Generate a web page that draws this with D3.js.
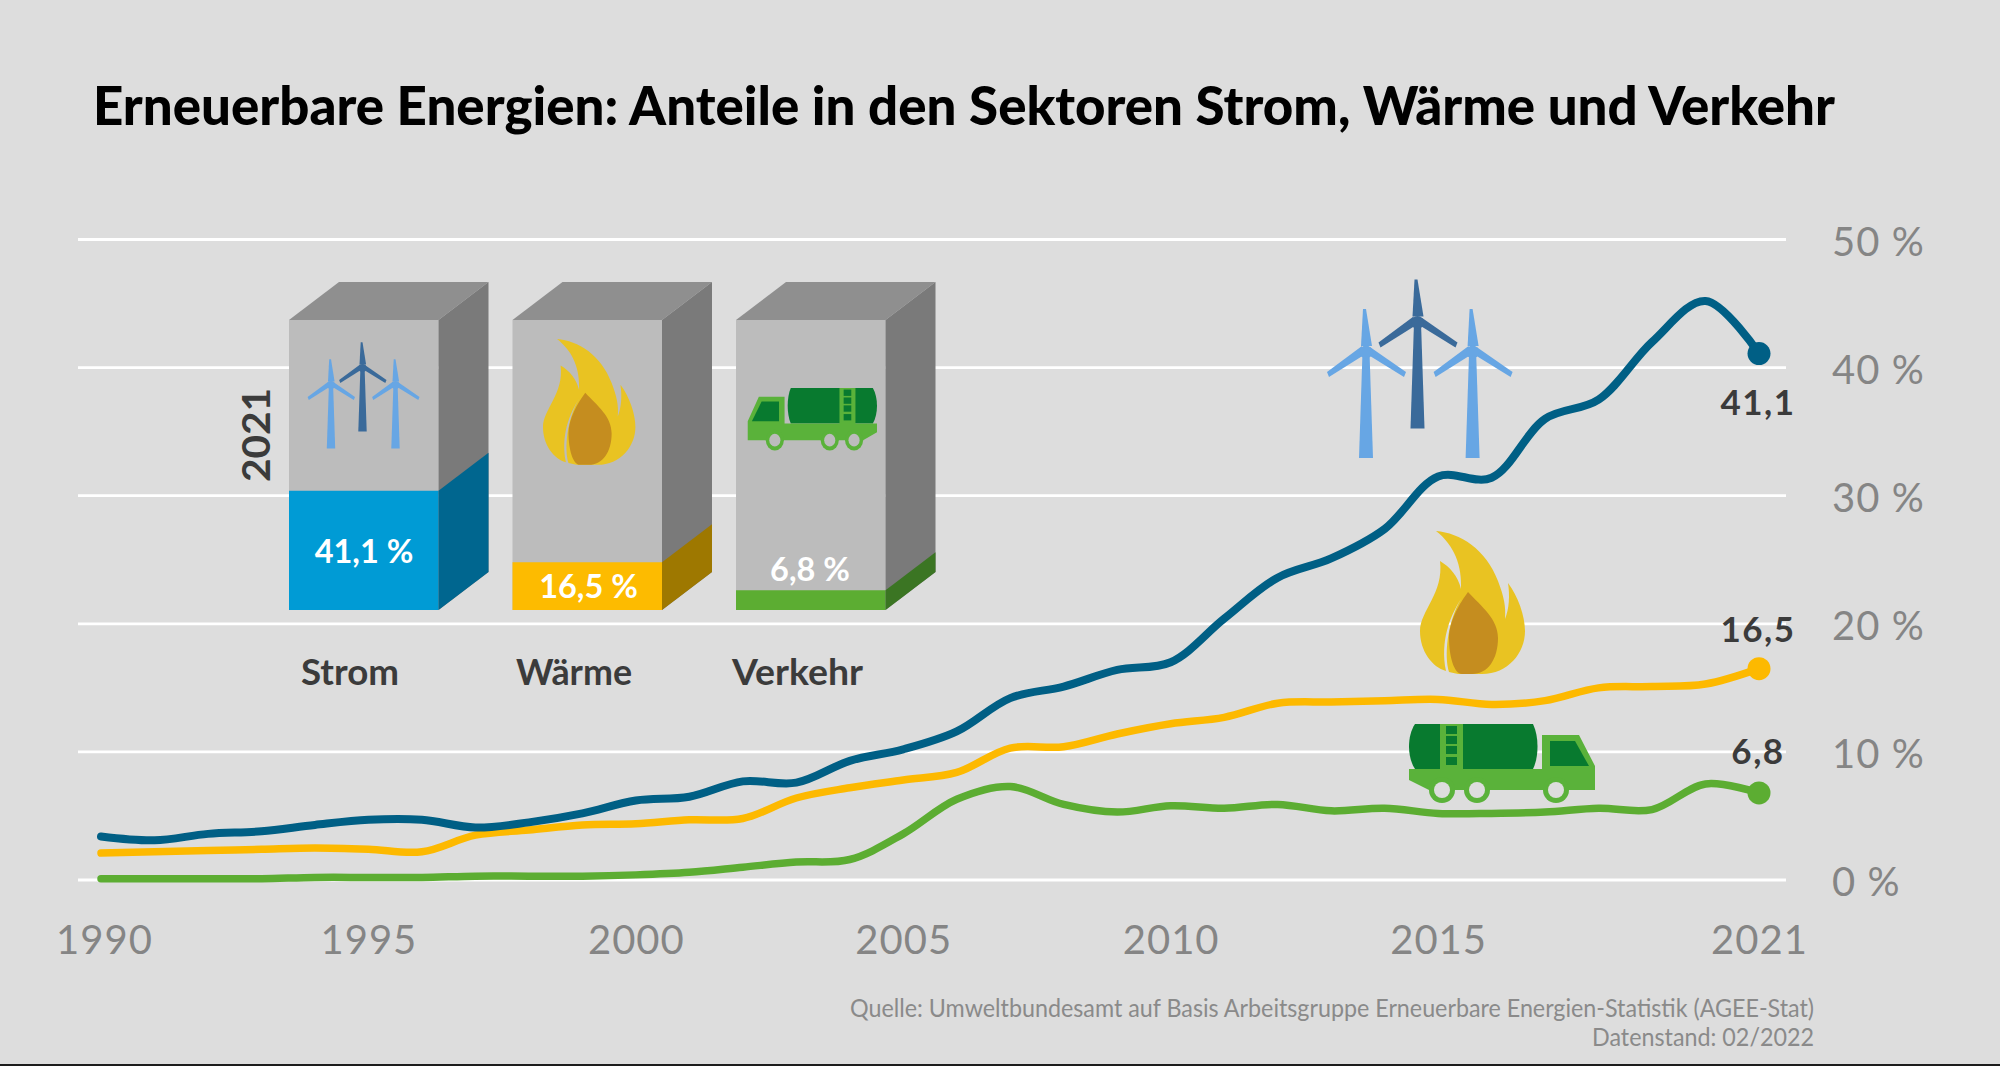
<!DOCTYPE html>
<html lang="de">
<head>
<meta charset="utf-8">
<script src="https://cdn.jsdelivr.net/npm/d3@7/dist/d3.min.js"></script>
<style>
html,body{margin:0;padding:0;background:#dddddd;overflow:hidden}
svg{display:block}
text{font-family:Lato,"Noto Sans",sans-serif}
</style>
</head>
<body>
<svg id="c" width="2000" height="1066"></svg>
<script>
const titleText = "Erneuerbare Energien: Anteile in den Sektoren Strom, Wärme und Verkehr";
const sourceLines = ["Quelle: Umweltbundesamt auf Basis Arbeitsgruppe Erneuerbare Energien-Statistik (AGEE-Stat)", "Datenstand: 02/2022"];
const years = d3.range(1990, 2022);
const strom = [3.4,3.1,3.6,3.8,4.3,4.7,4.7,4.1,4.5,5.2,6.2,6.5,7.7,7.6,9.3,10.2,11.6,14.2,15.1,16.4,17.0,20.4,23.6,25.1,27.4,31.5,31.4,36.0,37.5,42.0,45.2,41.1];
const waerme = [2.1,2.2,2.3,2.4,2.5,2.4,2.2,3.5,3.9,4.3,4.4,4.7,4.8,6.4,7.2,7.8,8.4,10.3,10.4,11.4,12.2,12.7,13.8,13.9,14.0,14.1,13.7,14.0,15.0,15.1,15.3,16.5];
const verkehr = [0.1,0.1,0.1,0.1,0.2,0.2,0.2,0.3,0.3,0.3,0.4,0.6,1.0,1.4,1.6,3.6,6.3,7.3,5.9,5.3,5.8,5.6,5.9,5.4,5.6,5.2,5.2,5.3,5.6,5.5,7.5,6.8];
const yTicks = [0,10,20,30,40,50];
const xTicks = [1990,1995,2000,2005,2010,2015,2021];
const barCats = ["Strom","Wärme","Verkehr"];
const barVals = [41.1,16.5,6.8];
const barLabels = ["41,1 %","16,5 %","6,8 %"];
const endLabels = ["41,1","16,5","6,8"];
const blockYear = "2021";

const svg = d3.select("#c");
const GREY="#858585", DARK="#3b3b3b";
const x = d3.scaleLinear().domain([1990,2021]).range([101,1759]);
const y = d3.scaleLinear().domain([0,50]).range([880,239.5]);

// rule at the foot
svg.append("rect").attr("x",0).attr("y",1064).attr("width",2000).attr("height",2).attr("fill","#1c1c1c");

// title
svg.append("text").attr("x",93).attr("y",125).text(titleText)
  .attr("font-size",53).attr("font-weight",900).attr("fill","#000")
  .attr("textLength",1742).attr("lengthAdjust","spacingAndGlyphs");

// grid
svg.append("g").selectAll("line").data(yTicks).join("line")
  .attr("x1",78).attr("x2",1786).attr("y1",d=>y(d)).attr("y2",d=>y(d))
  .attr("stroke","#fff").attr("stroke-width",2.8);

// axes
const yAxis = d3.axisRight(y).tickValues(yTicks).tickSize(0).tickPadding(0).tickFormat(d=>d+" %");
const gy = svg.append("g").attr("transform","translate(1832,3)").call(yAxis);
const xAxis = d3.axisBottom(x).tickValues(xTicks).tickSize(0).tickPadding(0).tickFormat(d3.format("d"));
const gx = svg.append("g").attr("transform","translate(0,926)").call(xAxis);
[gy,gx].forEach(g=>{
  g.select(".domain").remove();
  g.selectAll("text").attr("font-size",40).attr("fill",GREY).attr("font-family","Lato,sans-serif").attr("font-weight",400).attr("letter-spacing",1);
});
gx.selectAll("text").attr("dy","0.71em").filter(d=>d===1990).attr("dx",3);

// series
const line = d3.line().x((d,i)=>x(years[i])).y(d=>y(d)).curve(d3.curveCatmullRom.alpha(0.5));
const series = [
  {v:verkehr,c:"#5cad32",lab:endLabels[2],ly:764,w:7.5},
  {v:waerme,c:"#fdb900",lab:endLabels[1],ly:642,w:7.5},
  {v:strom,c:"#005f85",lab:endLabels[0],ly:415,w:8}
];
const sg = svg.append("g");
sg.selectAll("path").data(series).join("path")
  .attr("d",d=>line(d.v)).attr("fill","none").attr("stroke",d=>d.c)
  .attr("stroke-width",d=>d.w).attr("stroke-linecap","round");
sg.selectAll("circle").data(series).join("circle")
  .attr("cx",x(2021)).attr("cy",d=>y(d.v[d.v.length-1])).attr("r",11.5).attr("fill",d=>d.c);
sg.selectAll("text").data(series).join("text")
  .attr("x",x(2021)-1).attr("y",d=>d.ly).attr("text-anchor","middle")
  .attr("font-size",35).attr("font-weight",700).attr("fill",DARK).attr("letter-spacing",1.5).text(d=>d.lab);

// 3D blocks
const blockX = [289,512.5,736], blockW=149.5, depthX=50, depthY=-38;
const hScale = d3.scaleLinear().domain([0,100]).range([610,320]);
const fills = [
  {front:"#009bd5",side:"#00668f"},
  {front:"#fdbb00",side:"#9e7800"},
  {front:"#5cad32",side:"#3b7523"}
];
const labelBase=[563,598,581];
const catX=[[301,98],[516,116],[732,131]];
const blocks = svg.append("g").selectAll("g").data(barVals).join("g");
blocks.each(function(v,i){
  const g=d3.select(this), l=blockX[i], r=l+blockW, t=hScale(100), b=hScale(0), f=hScale(v);
  const poly=(pts,c)=>g.append("polygon").attr("points",pts.map(p=>p.join(",")).join(" ")).attr("fill",c);
  poly([[l,t],[r,t],[r+depthX,t+depthY],[l+depthX,t+depthY]],"#8f8f8f");
  poly([[l,t],[r,t],[r,b],[l,b]],"#bcbcbc");
  poly([[r,t],[r+depthX,t+depthY],[r+depthX,b+depthY],[r,b]],"#7a7a7a");
  poly([[l,f],[r,f],[r,b],[l,b]],fills[i].front);
  poly([[r,f],[r+depthX,f+depthY],[r+depthX,b+depthY],[r,b]],fills[i].side);
  g.append("text").attr("x",[364,588.5,810][i]).attr("y",labelBase[i]).attr("text-anchor","middle")
    .attr("font-size",32.5).attr("font-weight",700).attr("fill","#fff").text(barLabels[i]);
  g.append("text").attr("x",catX[i][0]).attr("y",685).text(barCats[i])
    .attr("font-size",36).attr("font-weight",700).attr("fill",DARK)
    .attr("textLength",catX[i][1]).attr("lengthAdjust","spacingAndGlyphs");
});
svg.append("text").attr("transform","translate(270,482) rotate(-90)").text(blockYear)
  .attr("font-size",38).attr("font-weight",700).attr("fill",DARK)
  .attr("textLength",94).attr("lengthAdjust","spacingAndGlyphs");

// icons
function turbine(tx,ty,s,c){
  const g=svg.append("g").attr("transform",`translate(${tx},${ty}) scale(${s})`).attr("fill",c);
  g.append("path").attr("d","M-3.5,0 L3.5,0 L7,106 L-7,106 Z");
  g.append("path").attr("d","M-5,-6 L-3,-43 L0,-43 L6,-6 Z");
  g.append("path").attr("d","M-4,-6 L-2,3 L-37,25 L-39,20 Z");
  g.append("path").attr("d","M4,-5 L4,4 L38,25 L40,20 Z");
  g.append("circle").attr("r",6.5);
}
function flame(tx,ty,s){
  const g=svg.append("g").attr("transform",`translate(${tx},${ty}) scale(${s})`);
  g.append("path").attr("fill","#e9c322").attr("d","M16,0 C40,2 66,18 78,50 C84,66 86,75 85,88 C89,78 90,65 88,52 C98,65 105,85 105,100 C105,122 88,143 62,143 L38,143 L29,141 C24,125 27,92 41,68 C30,85 20,110 26,140 C12,136 0,120 0,100 C0,80 24,62 20,30 C30,36 38,45 41,58 C42,35 35,15 16,0 Z");
  g.append("path").attr("fill","#c58d1f").attr("d","M48,61 C62,76 78,88 78,107 C78,128 68,143 52,143 L42,143 C34,143 29,125 29,107 C29,90 40,72 48,61 Z");
}
function truck(tx,ty,sx,sy){
  const LG="#5ab23a", DG="#087a2f";
  const g=svg.append("g").attr("transform",`translate(${tx},${ty}) scale(${sx},${sy})`);
  g.append("path").attr("fill",DG).attr("d","M6,0 L124,0 C130,12 130,33 124,45 L6,45 C-2,33 -2,12 6,0 Z");
  g.append("rect").attr("x",31).attr("y",0).attr("width",23).attr("height",46).attr("fill",LG);
  g.selectAll(".rung").data([2,12,22,33]).join("rect").attr("x",37).attr("y",d=>d).attr("width",11).attr("height",8).attr("fill",DG);
  g.append("path").attr("fill",LG).attr("d","M133,11 L170,11 L186,42 L186,66 L20,66 L0,56 L0,45 L133,45 Z");
  g.append("path").attr("fill",DG).attr("d","M141,17 L166,17 L180,42 L141,42 Z");
  [33,68,147].forEach(cx=>{
    g.append("circle").attr("cx",cx).attr("cy",66).attr("r",13).attr("fill",LG);
    g.append("circle").attr("cx",cx).attr("cy",66).attr("r",8).attr("fill",sx===1?"#dddddd":"#bcbcbc");
  });
}
turbine(1366,352,1,"#67a6e4");
turbine(1472.6,352,1,"#67a6e4");
turbine(1417.5,322.5,1,"#3a6a9a");
turbine(331,385,0.6,"#67a6e4");
turbine(395.5,385,0.6,"#67a6e4");
turbine(362.5,368,0.6,"#3a6a9a");
flame(1420,531,1);
flame(543,339,0.88);
truck(1409,724,1,1);
truck(877,388,-0.695,0.79);

// source
svg.append("g").selectAll("text").data(sourceLines).join("text")
  .attr("x",1814).attr("y",(d,i)=>1017+i*28.5).attr("text-anchor","end").text(d=>d)
  .attr("font-size",25).attr("fill","#8a8a8a")
  .attr("textLength",(d,i)=>[964,222][i]).attr("lengthAdjust","spacingAndGlyphs");
</script>
</body>
</html>
